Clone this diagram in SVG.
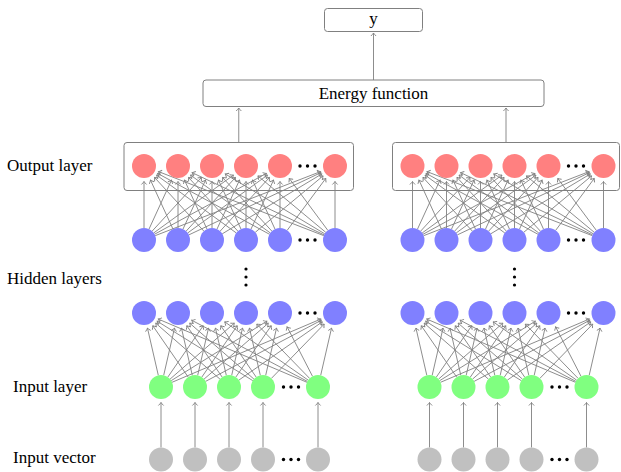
<svg xmlns="http://www.w3.org/2000/svg" xmlns:xlink="http://www.w3.org/1999/xlink" width="621" height="472" viewBox="0 0 621 472">
<style>
.lbl{font-family:"Liberation Serif","Times New Roman",serif;font-size:17px;fill:#000}
.box{fill:#fff;stroke:#808080;stroke-width:1}
.e line{stroke:#808080;stroke-width:0.9;fill:none;marker-end:url(#ah)}
.r{fill:#ff8080}.b{fill:#8080ff}.g{fill:#80ff80}.k{fill:#c0c0c0}
.d{fill:#000}
</style>
<defs>
<marker id="ah" viewBox="-4 -4 8 8" markerWidth="8" markerHeight="8" refX="0" refY="0" orient="auto" markerUnits="userSpaceOnUse">
<path d="M-3,-2.6 Q-1,-0.6 0,0 Q-1,0.6 -3,2.6" fill="none" stroke="#808080" stroke-width="0.9"/>
</marker>
<g id="fc-out" class="e">
<line x1="144" y1="228" x2="144" y2="181.5"/>
<line x1="149.01" y1="229.10" x2="171.53" y2="180.08"/>
<line x1="152.12" y1="231.16" x2="201.51" y2="177.41"/>
<line x1="153.71" y1="232.95" x2="233.45" y2="175.10"/>
<line x1="154.54" y1="234.26" x2="266.38" y2="173.41"/>
<line x1="155.19" y1="235.66" x2="320.55" y2="171.60"/>
<line x1="172.99" y1="229.10" x2="150.47" y2="180.08"/>
<line x1="178" y1="228" x2="178" y2="181.5"/>
<line x1="183.01" y1="229.10" x2="205.53" y2="180.08"/>
<line x1="186.12" y1="231.16" x2="235.51" y2="177.41"/>
<line x1="187.71" y1="232.95" x2="267.45" y2="175.10"/>
<line x1="188.85" y1="234.88" x2="320.98" y2="172.61"/>
<line x1="203.88" y1="231.16" x2="154.49" y2="177.41"/>
<line x1="206.99" y1="229.10" x2="184.47" y2="180.08"/>
<line x1="212" y1="228" x2="212" y2="181.5"/>
<line x1="217.01" y1="229.10" x2="239.53" y2="180.08"/>
<line x1="220.12" y1="231.16" x2="269.51" y2="177.41"/>
<line x1="222.28" y1="233.81" x2="321.72" y2="173.99"/>
<line x1="236.29" y1="232.95" x2="156.55" y2="175.10"/>
<line x1="237.88" y1="231.16" x2="188.49" y2="177.41"/>
<line x1="240.99" y1="229.10" x2="218.47" y2="180.08"/>
<line x1="246" y1="228" x2="246" y2="181.5"/>
<line x1="251.01" y1="229.10" x2="273.53" y2="180.08"/>
<line x1="255.23" y1="232.33" x2="323.08" y2="175.91"/>
<line x1="269.46" y1="234.26" x2="157.62" y2="173.41"/>
<line x1="270.29" y1="232.95" x2="190.55" y2="175.10"/>
<line x1="271.88" y1="231.16" x2="222.49" y2="177.41"/>
<line x1="274.99" y1="229.10" x2="252.47" y2="180.08"/>
<line x1="280" y1="228" x2="280" y2="181.5"/>
<line x1="287.16" y1="230.37" x2="325.75" y2="178.44"/>
<line x1="323.81" y1="235.66" x2="158.45" y2="171.60"/>
<line x1="324.15" y1="234.88" x2="192.02" y2="172.61"/>
<line x1="324.72" y1="233.81" x2="225.28" y2="173.99"/>
<line x1="325.77" y1="232.33" x2="257.92" y2="175.91"/>
<line x1="327.84" y1="230.37" x2="289.25" y2="178.44"/>
<line x1="335" y1="228" x2="335" y2="181.5"/>
</g>
<g id="fc-in" class="e">
<line x1="158.31" y1="375.30" x2="147.47" y2="328.11"/>
<line x1="163.69" y1="375.30" x2="174.53" y2="328.11"/>
<line x1="167.81" y1="377.12" x2="203.20" y2="325.76"/>
<line x1="170.05" y1="379.12" x2="234.31" y2="323.18"/>
<line x1="171.19" y1="380.66" x2="266.84" y2="321.19"/>
<line x1="172.04" y1="382.30" x2="320.74" y2="319.07"/>
<line x1="188.19" y1="377.12" x2="152.80" y2="325.76"/>
<line x1="192.31" y1="375.30" x2="181.47" y2="328.11"/>
<line x1="197.69" y1="375.30" x2="208.53" y2="328.11"/>
<line x1="201.81" y1="377.12" x2="237.20" y2="325.76"/>
<line x1="204.05" y1="379.12" x2="268.31" y2="323.18"/>
<line x1="205.61" y1="381.39" x2="321.30" y2="320.24"/>
<line x1="219.95" y1="379.12" x2="155.69" y2="323.18"/>
<line x1="222.19" y1="377.12" x2="186.80" y2="325.76"/>
<line x1="226.31" y1="375.30" x2="215.47" y2="328.11"/>
<line x1="231.69" y1="375.30" x2="242.53" y2="328.11"/>
<line x1="235.81" y1="377.12" x2="271.20" y2="325.76"/>
<line x1="238.84" y1="380.13" x2="322.29" y2="321.87"/>
<line x1="252.81" y1="380.66" x2="157.16" y2="321.19"/>
<line x1="253.95" y1="379.12" x2="189.69" y2="323.18"/>
<line x1="256.19" y1="377.12" x2="220.80" y2="325.76"/>
<line x1="260.31" y1="375.30" x2="249.47" y2="328.11"/>
<line x1="265.69" y1="375.30" x2="276.53" y2="328.11"/>
<line x1="271.37" y1="378.40" x2="324.19" y2="324.11"/>
<line x1="306.96" y1="382.30" x2="158.26" y2="319.07"/>
<line x1="307.39" y1="381.39" x2="191.70" y2="320.24"/>
<line x1="308.16" y1="380.13" x2="224.71" y2="321.87"/>
<line x1="309.63" y1="378.40" x2="256.81" y2="324.11"/>
<line x1="312.52" y1="376.33" x2="287.08" y2="326.79"/>
<line x1="320.69" y1="375.30" x2="331.53" y2="328.11"/>
</g>
<g id="fc-vec" class="e">
<line x1="161" y1="447.5" x2="161" y2="402.5"/>
<line x1="195" y1="447.5" x2="195" y2="402.5"/>
<line x1="229" y1="447.5" x2="229" y2="402.5"/>
<line x1="263" y1="447.5" x2="263" y2="402.5"/>
<line x1="318" y1="447.5" x2="318" y2="402.5"/>
</g>
</defs>

<g id="labels">
<text class="lbl" x="7" y="171">Output layer</text>
<text class="lbl" x="7" y="284">Hidden layers</text>
<text class="lbl" x="13" y="391.5">Input layer</text>
<text class="lbl" x="13" y="463">Input vector</text>
</g>

<g id="connectors" class="e">
<use xlink:href="#fc-out"/>
<use xlink:href="#fc-out" x="268.5"/>
<use xlink:href="#fc-in"/>
<use xlink:href="#fc-in" x="268.5"/>
<use xlink:href="#fc-vec"/>
<use xlink:href="#fc-vec" x="268.5"/>
<line x1="238.75" y1="142.5" x2="238.75" y2="108"/>
<line x1="506" y1="142.5" x2="506" y2="108"/>
<line x1="373.5" y1="80" x2="373.5" y2="33"/>
</g>

<g id="y-box"><rect class="box" x="324.5" y="8.5" width="98" height="23" rx="3"/><text class="lbl" x="373.5" y="23.5" text-anchor="middle">y</text></g>
<g id="energy"><rect class="box" x="203" y="80" width="341" height="26.5" rx="3"/><text class="lbl" x="373.5" y="98.5" text-anchor="middle">Energy function</text></g>
<g id="out-box-left"><rect class="box" x="124" y="142.5" width="229.5" height="48" rx="3" style="fill:none"/></g>
<g id="out-box-right"><rect class="box" x="392.5" y="142.5" width="227" height="48" rx="3" style="fill:none"/></g>

<!-- left network -->
<g id="L-out-1"><circle class="r" cx="144" cy="166" r="12"/></g>
<g id="L-out-2"><circle class="r" cx="178" cy="166" r="12"/></g>
<g id="L-out-3"><circle class="r" cx="212" cy="166" r="12"/></g>
<g id="L-out-4"><circle class="r" cx="246" cy="166" r="12"/></g>
<g id="L-out-5"><circle class="r" cx="280" cy="166" r="12"/></g>
<g id="L-out-n"><circle class="r" cx="335" cy="166" r="12"/></g>
<g id="L-h2-1"><circle class="b" cx="144" cy="240" r="12"/></g>
<g id="L-h2-2"><circle class="b" cx="178" cy="240" r="12"/></g>
<g id="L-h2-3"><circle class="b" cx="212" cy="240" r="12"/></g>
<g id="L-h2-4"><circle class="b" cx="246" cy="240" r="12"/></g>
<g id="L-h2-5"><circle class="b" cx="280" cy="240" r="12"/></g>
<g id="L-h2-n"><circle class="b" cx="335" cy="240" r="12"/></g>
<g id="L-h1-1"><circle class="b" cx="144" cy="313" r="12"/></g>
<g id="L-h1-2"><circle class="b" cx="178" cy="313" r="12"/></g>
<g id="L-h1-3"><circle class="b" cx="212" cy="313" r="12"/></g>
<g id="L-h1-4"><circle class="b" cx="246" cy="313" r="12"/></g>
<g id="L-h1-5"><circle class="b" cx="280" cy="313" r="12"/></g>
<g id="L-h1-n"><circle class="b" cx="335" cy="313" r="12"/></g>
<g id="L-in-1"><circle class="g" cx="161" cy="387" r="12"/></g>
<g id="L-in-2"><circle class="g" cx="195" cy="387" r="12"/></g>
<g id="L-in-3"><circle class="g" cx="229" cy="387" r="12"/></g>
<g id="L-in-4"><circle class="g" cx="263" cy="387" r="12"/></g>
<g id="L-in-n"><circle class="g" cx="318" cy="387" r="12"/></g>
<g id="L-vec-1"><circle class="k" cx="161" cy="459.5" r="12"/></g>
<g id="L-vec-2"><circle class="k" cx="195" cy="459.5" r="12"/></g>
<g id="L-vec-3"><circle class="k" cx="229" cy="459.5" r="12"/></g>
<g id="L-vec-4"><circle class="k" cx="263" cy="459.5" r="12"/></g>
<g id="L-vec-n"><circle class="k" cx="318" cy="459.5" r="12"/></g>

<!-- right network -->
<g id="R-out-1"><circle class="r" cx="412.5" cy="166" r="12"/></g>
<g id="R-out-2"><circle class="r" cx="446.5" cy="166" r="12"/></g>
<g id="R-out-3"><circle class="r" cx="480.5" cy="166" r="12"/></g>
<g id="R-out-4"><circle class="r" cx="514.5" cy="166" r="12"/></g>
<g id="R-out-5"><circle class="r" cx="548.5" cy="166" r="12"/></g>
<g id="R-out-n"><circle class="r" cx="603.5" cy="166" r="12"/></g>
<g id="R-h2-1"><circle class="b" cx="412.5" cy="240" r="12"/></g>
<g id="R-h2-2"><circle class="b" cx="446.5" cy="240" r="12"/></g>
<g id="R-h2-3"><circle class="b" cx="480.5" cy="240" r="12"/></g>
<g id="R-h2-4"><circle class="b" cx="514.5" cy="240" r="12"/></g>
<g id="R-h2-5"><circle class="b" cx="548.5" cy="240" r="12"/></g>
<g id="R-h2-n"><circle class="b" cx="603.5" cy="240" r="12"/></g>
<g id="R-h1-1"><circle class="b" cx="412.5" cy="313" r="12"/></g>
<g id="R-h1-2"><circle class="b" cx="446.5" cy="313" r="12"/></g>
<g id="R-h1-3"><circle class="b" cx="480.5" cy="313" r="12"/></g>
<g id="R-h1-4"><circle class="b" cx="514.5" cy="313" r="12"/></g>
<g id="R-h1-5"><circle class="b" cx="548.5" cy="313" r="12"/></g>
<g id="R-h1-n"><circle class="b" cx="603.5" cy="313" r="12"/></g>
<g id="R-in-1"><circle class="g" cx="429.5" cy="387" r="12"/></g>
<g id="R-in-2"><circle class="g" cx="463.5" cy="387" r="12"/></g>
<g id="R-in-3"><circle class="g" cx="497.5" cy="387" r="12"/></g>
<g id="R-in-4"><circle class="g" cx="531.5" cy="387" r="12"/></g>
<g id="R-in-n"><circle class="g" cx="586.5" cy="387" r="12"/></g>
<g id="R-vec-1"><circle class="k" cx="429.5" cy="459.5" r="12"/></g>
<g id="R-vec-2"><circle class="k" cx="463.5" cy="459.5" r="12"/></g>
<g id="R-vec-3"><circle class="k" cx="497.5" cy="459.5" r="12"/></g>
<g id="R-vec-4"><circle class="k" cx="531.5" cy="459.5" r="12"/></g>
<g id="R-vec-n"><circle class="k" cx="586.5" cy="459.5" r="12"/></g>

<g id="ellipses" class="d">
<circle cx="300" cy="166" r="1.7"/><circle cx="307.5" cy="166" r="1.7"/><circle cx="315" cy="166" r="1.7"/>
<circle cx="300" cy="240" r="1.7"/><circle cx="307.5" cy="240" r="1.7"/><circle cx="315" cy="240" r="1.7"/>
<circle cx="300" cy="313" r="1.7"/><circle cx="307.5" cy="313" r="1.7"/><circle cx="315" cy="313" r="1.7"/>
<circle cx="283.5" cy="387" r="1.7"/><circle cx="291" cy="387" r="1.7"/><circle cx="298.5" cy="387" r="1.7"/>
<circle cx="283.5" cy="459.5" r="1.7"/><circle cx="291" cy="459.5" r="1.7"/><circle cx="298.5" cy="459.5" r="1.7"/>
<circle cx="568.5" cy="166" r="1.7"/><circle cx="576" cy="166" r="1.7"/><circle cx="583.5" cy="166" r="1.7"/>
<circle cx="568.5" cy="240" r="1.7"/><circle cx="576" cy="240" r="1.7"/><circle cx="583.5" cy="240" r="1.7"/>
<circle cx="568.5" cy="313" r="1.7"/><circle cx="576" cy="313" r="1.7"/><circle cx="583.5" cy="313" r="1.7"/>
<circle cx="552" cy="387" r="1.7"/><circle cx="559.5" cy="387" r="1.7"/><circle cx="567" cy="387" r="1.7"/>
<circle cx="552" cy="459.5" r="1.7"/><circle cx="559.5" cy="459.5" r="1.7"/><circle cx="567" cy="459.5" r="1.7"/>
<circle cx="246" cy="269" r="1.6"/><circle cx="246" cy="277" r="1.6"/><circle cx="246" cy="285" r="1.6"/>
<circle cx="514.5" cy="269" r="1.6"/><circle cx="514.5" cy="277" r="1.6"/><circle cx="514.5" cy="285" r="1.6"/>
</g>
</svg>
